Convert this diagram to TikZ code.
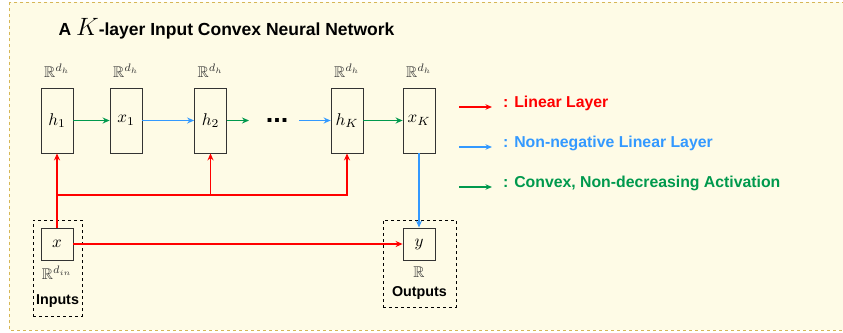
\documentclass[tikz,border=0pt]{standalone}
\usepackage{graphicx}
\usepackage{amssymb}
\usepackage{fontspec}
\setmainfont{Liberation Sans}
\usetikzlibrary{arrows.meta}
\definecolor{bgfill}{RGB}{254,251,230}
\definecolor{bgline}{RGB}{214,182,86}
\definecolor{lred}{RGB}{255,0,0}
\definecolor{lblue}{RGB}{51,153,255}
\definecolor{lgreen}{RGB}{0,153,77}
\definecolor{boxline}{RGB}{51,51,51}
\newcommand{\bm}[1]{\scalebox{1.7}{$#1$}}
\newcommand{\dm}[1]{\scalebox{1.55}{$#1$}}
\tikzset{
  layer/.style={draw=boxline, line width=0.8pt, fill=bgfill, minimum width=32pt, minimum height=65pt, inner sep=0pt},
  iobox/.style={draw=boxline, line width=0.8pt, fill=bgfill, minimum width=32pt, minimum height=32pt, inner sep=0pt},
  grp/.style={draw=black, dashed, line width=1pt, inner sep=0pt},
  dimlab/.style={text=black!80, inner sep=0pt},
  conn/.style={line width=1.3pt, -{Stealth[length=7pt,width=6pt]}},
  lintext/.style={font=\fontsize{15.8}{18}\selectfont\bfseries, anchor=west, inner sep=0pt},
  grplab/.style={font=\fontsize{14.3}{16}\selectfont\bfseries, inner sep=0pt},
}
\begin{document}
\begin{tikzpicture}[x=1pt,y=-1pt]
\useasboundingbox (0,0) rectangle (843,332);
\draw[draw=bgline, fill=bgfill, dashed, line width=1pt] (9,2) rectangle (852,330);
\node[font=\fontsize{17.5}{20}\selectfont\bfseries, inner sep=0pt] (title) at (226.5,29) {A \scalebox{1.45}{$K$}-layer Input Convex Neural Network};
% dashed groups
\node[grp, minimum width=49pt, minimum height=96pt] (ingrp) at (57.5,268) {};
\node[grp, minimum width=73pt, minimum height=87pt] (outgrp) at (419.5,263.5) {};
% layers
\node[layer] (h1) at (57,120.5) {\bm{h_1}};
\node[layer] (x1) at (126,120.5) {\bm{x_1}};
\node[layer] (h2) at (210.5,120.5) {\bm{h_2}};
\node[layer] (hK) at (347,120.5) {\bm{h_K}};
\node[layer] (xK) at (419,120.5) {\bm{x_K}};
\node[iobox] (x) at (57,244) {\bm{x}};
\node[iobox] (y) at (419,244) {\bm{y}};
% dimension labels
\node[dimlab] (dh1) at (57,71) {\dm{\mathbb{R}^{d_h}}};
\node[dimlab] (dx1) at (126,71) {\dm{\mathbb{R}^{d_h}}};
\node[dimlab] (dh2) at (210.5,71) {\dm{\mathbb{R}^{d_h}}};
\node[dimlab] (dhK) at (347,71) {\dm{\mathbb{R}^{d_h}}};
\node[dimlab] (dxK) at (419,71) {\dm{\mathbb{R}^{d_h}}};
\node[dimlab] (dx) at (57,273) {\dm{\mathbb{R}^{d_{in}}}};
\node[dimlab] (dy) at (419,272) {\dm{\mathbb{R}}};
\node[grplab] (inlab) at (57.5,301) {Inputs};
\node[grplab] (outlab) at (419.5,293) {Outputs};
\node[font=\fontsize{27}{30}\selectfont\bfseries, inner sep=0pt] (dots) at (277,120) {...};
% connectors
\coordinate (g2end) at (249,120.5);
\coordinate (bstart) at (299,120.5);
\coordinate (bus) at (57,195);
\coordinate (bus2) at (210.5,195);
\draw[conn, lgreen] (h1) -- (x1);
\draw[conn, lblue] (x1) -- (h2);
\draw[conn, lgreen] (h2.east) -- (g2end);
\draw[conn, lblue] (bstart) -- (hK.west);
\draw[conn, lgreen] (hK) -- (xK);
\draw[conn, lblue] (xK.south) -- (y.north);
\draw[conn, lred] (x.north) -- (h1.south);
\draw[conn, lred] (bus) -| (hK.south);
\draw[conn, lred] (bus2) -- (h2.south);
\draw[conn, lred] (x.east) -- (y.west);
% legend
\coordinate (l1a) at (459,107); \coordinate (l1b) at (492,107);
\coordinate (l2a) at (459,147); \coordinate (l2b) at (492,147);
\coordinate (l3a) at (459,187); \coordinate (l3b) at (492,187);
\draw[line width=1.2pt, lred, -{Stealth[length=6.5pt,width=5.5pt]}] (l1a) -- (l1b);
\draw[line width=1.2pt, lblue, -{Stealth[length=6.5pt,width=5.5pt]}] (l2a) -- (l2b);
\draw[line width=1.2pt, lgreen, -{Stealth[length=6.5pt,width=5.5pt]}] (l3a) -- (l3b);
\node[lintext, text=lred] (t1) at (503,103) {: Linear Layer};
\node[lintext, text=lblue] (t2) at (503,143) {: Non-negative Linear Layer};
\node[lintext, text=lgreen] (t3) at (503,183) {: Convex, Non-decreasing Activation};
\end{tikzpicture}
\end{document}
